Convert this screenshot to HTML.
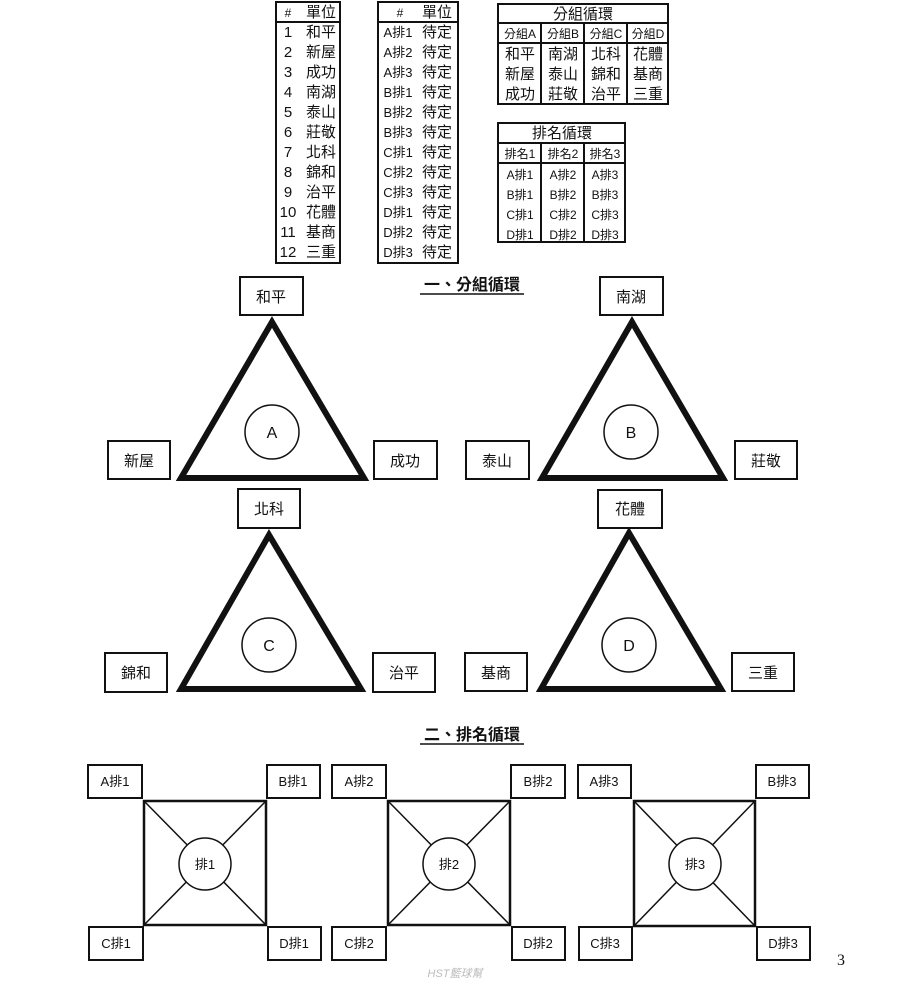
<!DOCTYPE html>
<html><head><meta charset="utf-8"><style>
html,body{margin:0;padding:0;background:#fff;width:900px;height:993px;overflow:hidden}
svg{display:block}
text{font-family:"Liberation Sans","Noto Sans CJK TC",sans-serif;fill:#111}
</style></head><body>
<svg width="900" height="993" viewBox="0 0 900 993" xmlns="http://www.w3.org/2000/svg">
<g fill="none" stroke="#111" stroke-width="2">
<rect x="276" y="2" width="64" height="261"/>
<line x1="276" y1="22" x2="340" y2="22"/>
<rect x="378" y="2" width="80" height="261"/>
<line x1="378" y1="22" x2="458" y2="22"/>
<rect x="498" y="4" width="170" height="100"/>
<line x1="498" y1="23" x2="668" y2="23"/>
<line x1="498" y1="43" x2="668" y2="43"/>
<line x1="541" y1="23" x2="541" y2="104"/>
<line x1="584" y1="23" x2="584" y2="104"/>
<line x1="627" y1="23" x2="627" y2="104"/>
<rect x="498" y="123" width="127" height="119"/>
<line x1="498" y1="143" x2="625" y2="143"/>
<line x1="498" y1="163" x2="625" y2="163"/>
<line x1="541" y1="143" x2="541" y2="242"/>
<line x1="584" y1="143" x2="584" y2="242"/>
</g>
<g font-size="15" text-anchor="middle">
<text x="288" y="17" font-size="12">#</text><text x="321" y="17">單位</text>
<text x="288" y="37">1</text><text x="321" y="37">和平</text>
<text x="288" y="57">2</text><text x="321" y="57">新屋</text>
<text x="288" y="77">3</text><text x="321" y="77">成功</text>
<text x="288" y="97">4</text><text x="321" y="97">南湖</text>
<text x="288" y="117">5</text><text x="321" y="117">泰山</text>
<text x="288" y="137">6</text><text x="321" y="137">莊敬</text>
<text x="288" y="157">7</text><text x="321" y="157">北科</text>
<text x="288" y="177">8</text><text x="321" y="177">錦和</text>
<text x="288" y="197">9</text><text x="321" y="197">治平</text>
<text x="288" y="217">10</text><text x="321" y="217">花體</text>
<text x="288" y="237">11</text><text x="321" y="237">基商</text>
<text x="288" y="257">12</text><text x="321" y="257">三重</text>
<text x="400" y="17" font-size="12">#</text><text x="437" y="17">單位</text>
<g font-size="13"><text x="398" y="37">A排1</text><text x="398" y="57">A排2</text><text x="398" y="77">A排3</text><text x="398" y="97">B排1</text><text x="398" y="117">B排2</text><text x="398" y="137">B排3</text><text x="398" y="157">C排1</text><text x="398" y="177">C排2</text><text x="398" y="197">C排3</text><text x="398" y="217">D排1</text><text x="398" y="237">D排2</text><text x="398" y="257">D排3</text></g>
<text x="437" y="37">待定</text><text x="437" y="57">待定</text><text x="437" y="77">待定</text><text x="437" y="97">待定</text><text x="437" y="117">待定</text><text x="437" y="137">待定</text><text x="437" y="157">待定</text><text x="437" y="177">待定</text><text x="437" y="197">待定</text><text x="437" y="217">待定</text><text x="437" y="237">待定</text><text x="437" y="257">待定</text>
<text x="583" y="19">分組循環</text>
<g font-size="12"><text x="520" y="38">分組A</text><text x="563" y="38">分組B</text><text x="606" y="38">分組C</text><text x="648" y="38">分組D</text></g>
<text x="520" y="59">和平</text><text x="563" y="59">南湖</text><text x="606" y="59">北科</text><text x="648" y="59">花體</text>
<text x="520" y="79">新屋</text><text x="563" y="79">泰山</text><text x="606" y="79">錦和</text><text x="648" y="79">基商</text>
<text x="520" y="99">成功</text><text x="563" y="99">莊敬</text><text x="606" y="99">治平</text><text x="648" y="99">三重</text>
<text x="562" y="138">排名循環</text>
<g font-size="12"><text x="520" y="158">排名1</text><text x="563" y="158">排名2</text><text x="605" y="158">排名3</text>
<text x="520" y="179">A排1</text><text x="563" y="179">A排2</text><text x="605" y="179">A排3</text>
<text x="520" y="199">B排1</text><text x="563" y="199">B排2</text><text x="605" y="199">B排3</text>
<text x="520" y="219">C排1</text><text x="563" y="219">C排2</text><text x="605" y="219">C排3</text>
<text x="520" y="239">D排1</text><text x="563" y="239">D排2</text><text x="605" y="239">D排3</text></g>
</g>
<text x="472" y="290" font-size="16" font-weight="bold" text-anchor="middle">一、分組循環</text>
<line x1="420" y1="294" x2="524" y2="294" stroke="#111" stroke-width="1.5"/>
<text x="472" y="740" font-size="16" font-weight="bold" text-anchor="middle">二、排名循環</text>
<line x1="420" y1="744" x2="524" y2="744" stroke="#111" stroke-width="1.5"/>
<g fill="none" stroke="#111" stroke-width="6" stroke-linejoin="miter">
<polygon points="272,322 181,478 364,478"/>
<polygon points="632,322 542,478 723,478"/>
<polygon points="269,535 181,689 361,689"/>
<polygon points="629,533 541,689 721,689"/>
</g>
<g fill="none" stroke="#111" stroke-width="1.5">
<circle cx="272" cy="432" r="27"/><circle cx="631" cy="432" r="27"/>
<circle cx="269" cy="645" r="27"/><circle cx="629" cy="645" r="27"/>
</g>
<g font-size="16" text-anchor="middle">
<text x="272" y="438">A</text><text x="631" y="438">B</text><text x="269" y="651">C</text><text x="629" y="651">D</text>
</g>
<g fill="#fff" stroke="#111" stroke-width="2">
<rect x="240" y="277" width="63" height="38"/><rect x="108" y="441" width="62" height="38"/><rect x="374" y="441" width="63" height="38"/>
<rect x="600" y="277" width="63" height="38"/><rect x="466" y="441" width="63" height="38"/><rect x="735" y="441" width="62" height="38"/>
<rect x="238" y="489" width="62" height="39"/><rect x="105" y="653" width="62" height="39"/><rect x="373" y="653" width="62" height="39"/>
<rect x="598" y="490" width="64" height="38"/><rect x="465" y="653" width="62" height="38"/><rect x="732" y="653" width="62" height="38"/>
</g>
<g font-size="15" text-anchor="middle">
<text x="271" y="302">和平</text><text x="139" y="466">新屋</text><text x="405" y="466">成功</text>
<text x="631" y="302">南湖</text><text x="497" y="466">泰山</text><text x="766" y="466">莊敬</text>
<text x="269" y="514">北科</text><text x="136" y="678">錦和</text><text x="404" y="678">治平</text>
<text x="630" y="514">花體</text><text x="496" y="678">基商</text><text x="763" y="678">三重</text>
</g>
<g fill="none" stroke="#111" stroke-width="2.5">
<rect x="144" y="801" width="122" height="124"/>
<rect x="388" y="801" width="122" height="124"/>
<rect x="634" y="801" width="121" height="125"/>
</g>
<g stroke="#111" stroke-width="1.5">
<line x1="144" y1="801" x2="266" y2="925"/><line x1="266" y1="801" x2="144" y2="925"/>
<line x1="388" y1="801" x2="510" y2="925"/><line x1="510" y1="801" x2="388" y2="925"/>
<line x1="634" y1="801" x2="755" y2="926"/><line x1="755" y1="801" x2="634" y2="926"/>
</g>
<g fill="#fff" stroke="#111" stroke-width="1.5">
<circle cx="205" cy="864" r="26"/><circle cx="449" cy="864" r="26"/><circle cx="695" cy="864" r="26"/>
</g>
<g fill="#fff" stroke="#111" stroke-width="2">
<rect x="88" y="765" width="54" height="33"/><rect x="267" y="765" width="53" height="33"/>
<rect x="89" y="927" width="54" height="33"/><rect x="268" y="927" width="53" height="33"/>
<rect x="332" y="765" width="54" height="33"/><rect x="511" y="765" width="54" height="33"/>
<rect x="332" y="927" width="54" height="33"/><rect x="512" y="927" width="53" height="33"/>
<rect x="578" y="765" width="53" height="33"/><rect x="756" y="765" width="53" height="33"/>
<rect x="579" y="927" width="53" height="33"/><rect x="757" y="927" width="53" height="33"/>
</g>
<g font-size="13" text-anchor="middle">
<text x="205" y="869">排1</text><text x="449" y="869">排2</text><text x="695" y="869">排3</text>
<text x="115" y="786">A排1</text><text x="293" y="786">B排1</text><text x="116" y="948">C排1</text><text x="294" y="948">D排1</text>
<text x="359" y="786">A排2</text><text x="538" y="786">B排2</text><text x="359" y="948">C排2</text><text x="538" y="948">D排2</text>
<text x="604" y="786">A排3</text><text x="782" y="786">B排3</text><text x="605" y="948">C排3</text><text x="783" y="948">D排3</text>
</g>
<text x="841" y="965" font-size="16" text-anchor="middle" style="font-family:'Liberation Serif',serif" fill="#444">3</text>
<text x="455" y="977" font-size="11" font-style="italic" text-anchor="middle" style="fill:#bbb">HST籃球幫</text>
</svg>
</body></html>
